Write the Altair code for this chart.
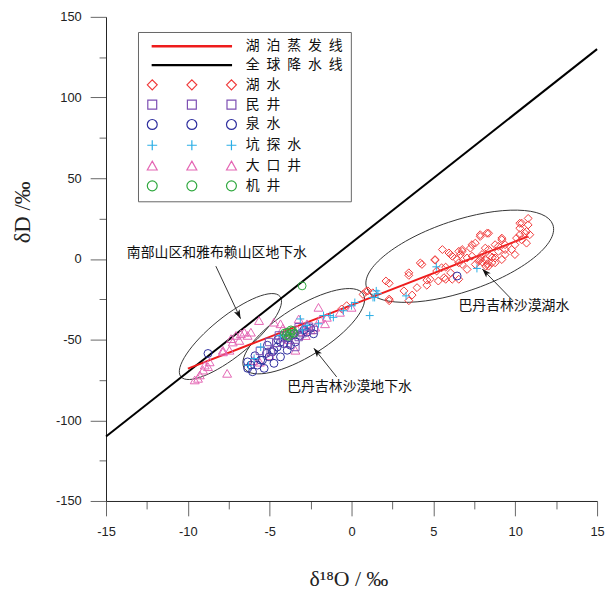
import math
import altair as alt
import pandas as pd

# ---------------- data ----------------
# 湖水 (lake water)
lake_x = [1.0, 1.3, 2.1, 2.3, 2.3, 2.3, 3.2, 3.5, 3.5, 3.5, 3.7, 4.0, 4.2, 4.3, 4.6, 4.6, 4.8, 5.1, 5.1, 5.2,
          5.3, 5.5, 5.55, 5.65, 5.75, 5.75, 5.95, 6.05, 6.05, 6.15, 6.15, 6.45, 6.55, 6.55, 6.55, 6.65, 6.76, 6.76, 6.76, 7.06,
          7.06, 7.26, 7.36, 7.36, 7.56, 7.56, 7.76, 7.86, 7.86, 7.86, 7.97, 8.0, 8.17, 8.17, 8.2, 8.27, 8.37, 8.37, 8.37, 8.47,
          8.57, 8.77, 8.77, 8.77, 8.97, 8.97, 9.18, 9.18, 9.18, 9.38, 9.38, 9.38, 9.78, 9.98, 9.98, 10.08, 10.28, 10.28, 10.28, 10.38,
          10.4, 10.59, 10.69, 10.69, 10.79, 10.79, 10.89, 7.9, 8.6, 8.3, -0.6, -0.3, 0.7, 0.9]
lake_y = [-19.8, -21.0, -13.7, -15.1, -24.9, -25.9, -19.8, -25.9, -8.6, -10.2, -22.4, -17.8, -2.5, -3.4, -13.1, -16.3, -12.6, -0.4, -0.8, -7.5,
          -13.7, -5.5, 5.8, -11.6, -12.6, -5.1, 3.7, 2.7, -8.6, -12.6, 1.7, -0.4, 4.7, -12.6, -2.4, 2.7, 5.8, 4.7, -3.4, 0.6,
          -6.5, 6.7, 1.7, 8.8, 9.8, -3.4, -1.4, 13.9, 15.0, -0.4, 2.7, -2.0, 6.7, -0.4, -4.5, 15.9, 15.9, 5.8, -4.5, 1.7,
          -2.4, -2.4, 0.6, 8.8, 4.7, 7.8, 12.9, 11.9, -0.4, 8.8, 2.7, 5.8, 5.8, 2.7, 8.8, 12.9, 15.0, 19.0, 22.1, 11.9,
          22.1, 15.9, 17.0, 9.8, 21.1, 25.1, 15.0, 0.8, 1.0, -3.0, -31.0, -29.0, -22.0, -20.0]

# 民井
well_x = [-5.6, -5.04, -4.94, -4.6, -4.44, -4.2, -3.93, -3.8, -3.43, -3.23, -3.23, -3.0, -2.6, -2.3]
well_y = [-57.0, -51.5, -57.6, -52.0, -47.4, -49.0, -52.5, -47.0, -54.6, -48.4, -42.3, -46.0, -42.0, -44.0]

# 泉水
spring_x = [-8.77, 6.45, -6.35, -6.35, -6.15, -6.05, -5.75, -5.55, -5.44, -5.34, -5.14, -5.04, -4.84, -4.74, -4.74, -4.54,
            -4.34, -4.34, -4.13, -3.93, -3.73, -3.53, -3.43, -3.13, -2.72, -2.32, -5.9, -5.2, -4.5, -3.9, -2.9, -2.5]
spring_y = [-58.6, -10.6, -67.8, -63.8, -65.8, -69.9, -65.8, -62.7, -62.7, -67.8, -53.5, -60.7, -57.6, -56.6, -64.7, -54.6,
            -51.5, -60.7, -52.5, -56.6, -53.5, -46.4, -51.5, -47.4, -45.4, -46.4, -60.0, -58.5, -50.0, -49.0, -44.0, -43.0]

# 坑探水
pit_x = [-6.3, -5.95, -5.55, -4.34, -3.13, -3.0, -2.72, -2.02, -1.71, -1.31, -1.11, -0.5, 0.0, 0.2, 1.11, 1.31, 1.41, 1.51,
         1.61, 3.33, 5.18, 7.66]
pit_y = [-66.0, -61.7, -54.6, -47.4, -37.2, -44.0, -41.3, -40.2, -35.1, -35.1, -36.2, -32.1, -29.0, -27.0, -35.1, -23.9,
         -23.9, -19.8, -21.5, -22.9, -4.9, -5.9]

# 大口井
big_x = [-9.58, -9.38, -9.27, -9.07, -8.97, -8.77, -8.67, -7.86, -7.86, -7.46, -7.6, -7.36, -7.26, -7.06, -6.86, -6.76,
         -6.55, -6.35, -6.15, -5.65, -4.74, -4.34, -3.33, -3.23, -2.72, -2.22, -1.92, -1.62, -3.43, -2.02, 0.0, -0.71,
         -3.0, -4.0, -3.6, -2.5, -5.0, -5.6, -6.0, -4.2, -3.8, -2.8, -1.51]
big_y = [-75.0, -74.0, -71.9, -68.9, -65.8, -66.8, -63.8, -57.6, -56.6, -56.6, -70.9, -49.4, -51.5, -47.4, -50.5, -46.4,
         -45.4, -47.4, -45.4, -38.2, -39.2, -40.2, -43.3, -37.2, -40.2, -42.3, -37.2, -40.2, -56.6, -30.0, -30.0, -33.1,
         -45.0, -45.0, -47.0, -44.0, -60.0, -64.0, -63.0, -43.0, -50.0, -47.5, -36.2]

# 机井
mech_x = [-3.02, -3.93, -3.73, -4.0, -3.6, -3.85, -3.5, -4.1, -3.7]
mech_y = [-16.7, -45.4, -46.4, -47.5, -44.5, -48.0, -46.0, -46.0, -44.0]

# lines
gmwl_x = [-15, 15]
gmwl_y = [-110, 130]
evap_x = [-10.0, 10.8]
evap_y = [-68.0, 14.0]

# axis ticks
x_ticks = [-15, -12.5, -10, -7.5, -5, -2.5, 0, 2.5, 5, 7.5, 10, 12.5, 15]
y_ticks = [-150, -125, -100, -75, -50, -25, 0, 25, 50, 75, 100, 125, 150]
x_title = "δ¹⁸O / ‰"
y_title = "δD /‰"

# annotations
note_labels = ["南部山区和雅布赖山区地下水", "巴丹吉林沙漠地下水", "巴丹吉林沙漠湖水"]
note_x = [-13.73, -3.93, 6.53]
note_y = [3.5, -79.3, -29.0]

arrow_x0 = [-8.29, -0.91, 9.86]
arrow_y0 = [-4.5, -73.1, -25.9]
arrow_x1 = [-6.78, -2.30, 7.99]
arrow_y1 = [-37.0, -55.4, -6.3]

ell_cx = [-7.40, -2.92, 6.61]
ell_cy = [-48.1, -44.8, 1.66]

type_names = ["湖水", "民井", "泉水", "坑探水", "大口井", "机井"]
line_names = ["湖泊蒸发线", "全球降水线"]

# ---------------- styles / layout ----------------
W, H = 496, 489
colors = {"湖泊蒸发线": "#ee1c1c", "全球降水线": "#000000", "湖水": "#f03a3a", "民井": "#7d4fb3",
          "泉水": "#2e2e9e", "坑探水": "#2aaee6", "大口井": "#e466b4", "机井": "#2fa83e"}
PLUS = "M-1,0L1,0M0,-1L0,1"
shapes = {"湖水": "diamond", "民井": "square", "泉水": "circle", "坑探水": PLUS,
          "大口井": "triangle-up", "机井": "circle"}
sizes = {"湖水": 64, "民井": 56, "泉水": 64, "坑探水": 64, "大口井": 81, "机井": 64}

series = {"湖水": (lake_x, lake_y), "大口井": (big_x, big_y), "泉水": (spring_x, spring_y),
          "民井": (well_x, well_y), "坑探水": (pit_x, pit_y), "机井": (mech_x, mech_y)}
rows = []
for name, (xs, ys) in series.items():
    for xv, yv in zip(xs, ys):
        rows.append({"x": xv, "y": yv, "类型": name, "color": colors[name],
                     "shape": shapes[name], "size": sizes[name]})
pts_df = pd.DataFrame(rows)

# ellipses (pixel semi-axes and tilt, drawn as custom symbol paths)
ell_a = [64.4, 70.8, 99.3]
ell_b = [20.0, 25.0, 36.0]
ell_tilt = [39.0, 32.0, 18.6]
ell_df = pd.DataFrame({
    "x": ell_cx, "y": ell_cy,
    "path": [f"M-1,0A1,{b / a:.3f} 0 1,1 1,0A1,{b / a:.3f} 0 1,1 -1,0Z" for a, b in zip(ell_a, ell_b)],
    "size": [(2 * a) ** 2 for a in ell_a],
    "angle": [360 - t for t in ell_tilt],
})

sx, sy = W / 30.0, H / 300.0
arr_df = pd.DataFrame({"x0": arrow_x0, "y0": arrow_y0, "x1": arrow_x1, "y1": arrow_y1})
arr_df["angle"] = [
    math.degrees(math.atan2(-(b1 - b0) * sy, (a1 - a0) * sx)) % 360
    for a0, b0, a1, b1 in zip(arrow_x0, arrow_y0, arrow_x1, arrow_y1)
]
ARROW = "M0,0L-2,-0.7L-1.5,0L-2,0.7Z"

txt_df = pd.DataFrame({"x": note_x, "y": note_y, "label": note_labels})
gm_df = pd.DataFrame({"x": gmwl_x, "y": gmwl_y})
ev_df = pd.DataFrame({"x": evap_x, "y": evap_y})

# legend (triple symbols as custom paths)
def triple(fn):
    return "".join(fn(c) for c in (0, 8, 16))

leg_paths = [
    "M0,-0.12L16,-0.12L16,0.12L0,0.12Z",
    "M0,-0.12L16,-0.12L16,0.12L0,0.12Z",
    triple(lambda c: f"M{c-1},0L{c},-1L{c+1},0L{c},1Z"),
    triple(lambda c: f"M{c-0.9},-0.9L{c+0.9},-0.9L{c+0.9},0.9L{c-0.9},0.9Z"),
    triple(lambda c: f"M{c-1},0A1,1 0 1,1 {c+1},0A1,1 0 1,1 {c-1},0Z"),
    triple(lambda c: f"M{c-1},0L{c+1},0M{c},-1L{c},1"),
    triple(lambda c: f"M{c},-1L{c+1},0.8L{c-1},0.8Z"),
    triple(lambda c: f"M{c-1},0A1,1 0 1,1 {c+1},0A1,1 0 1,1 {c-1},0Z"),
]
all_names = line_names + type_names
leg_disp = ["\u2002".join(list(n)) for n in all_names]
leg_colors = [colors[n] for n in all_names]
leg_df = pd.DataFrame({"类型": leg_disp})

# ---------------- scales / axes ----------------
xsc = alt.Scale(domain=[-15, 15], nice=False, zero=False)
ysc = alt.Scale(domain=[-150, 150], nice=False, zero=False)

x_axis = alt.Axis(
    values=x_ticks, grid=False, labelFlush=False, title=None,
    labelExpr="datum.value % 5 === 0 ? '' + datum.value : ''",
    tickSize={"condition": {"test": "datum.value % 5 === 0", "value": 15}, "value": 8},
    labelPadding=10, labelFont="Liberation Sans", labelFontSize=13, labelColor="#222",
    tickColor="#666", domainColor="#222",
)
y_axis = alt.Axis(
    values=y_ticks, grid=False, labelFlush=False, title=None,
    labelExpr="datum.value % 50 === 0 ? '' + datum.value : ''",
    tickSize={"condition": {"test": "datum.value % 50 === 0", "value": 16}, "value": 7},
    labelPadding=9, labelFont="Liberation Sans", labelFontSize=13, labelColor="#222",
    tickColor="#666", domainColor="#222",
)


def X(f):
    return alt.X(f"{f}:Q", scale=xsc, axis=x_axis)


def Y(f):
    return alt.Y(f"{f}:Q", scale=ysc, axis=y_axis)


ell = alt.Chart(ell_df).mark_point(filled=False, opacity=1, strokeWidth=0.9, color="#333").encode(
    x=X("x"), y=Y("y"),
    shape=alt.Shape("path:N", scale=None),
    size=alt.Size("size:Q", scale=None),
    angle=alt.Angle("angle:Q", scale=None),
)
gm = alt.Chart(gm_df).mark_line(color="#000000", strokeWidth=2).encode(x=X("x"), y=Y("y"))
ev = alt.Chart(ev_df).mark_line(color=colors["湖泊蒸发线"], strokeWidth=2).encode(x=X("x"), y=Y("y"))
pts = alt.Chart(pts_df).mark_point(filled=False, opacity=1, strokeWidth=1).encode(
    x=X("x"), y=Y("y"),
    color=alt.Color("color:N", scale=None),
    shape=alt.Shape("shape:N", scale=None),
    size=alt.Size("size:Q", scale=None),
)
arr = alt.Chart(arr_df).mark_rule(color="#333", strokeWidth=1).encode(
    x=X("x0"), y=Y("y0"), x2="x1:Q", y2="y1:Q")
heads = alt.Chart(arr_df).mark_point(filled=True, opacity=1, color="#111", size=80, shape=ARROW).encode(
    x=X("x1"), y=Y("y1"), angle=alt.Angle("angle:Q", scale=None))
txt = alt.Chart(txt_df).mark_text(align="left", baseline="middle", font="Noto Sans CJK SC",
                                  fontSize=14, color="#111").encode(x=X("x"), y=Y("y"), text="label:N")

# axis titles as text marks (positioned relative to the plot area)
xt = alt.Chart(pd.DataFrame({"t": [x_title]})).mark_text(
    font="Liberation Serif", fontSize=22, color="#222", align="center", baseline="middle"
).encode(text="t:N", x=alt.value(245.3), y=alt.value(567.5))
yt = alt.Chart(pd.DataFrame({"t": [y_title]})).mark_text(
    font="Liberation Serif", fontSize=23, color="#222", align="center", baseline="middle", angle=270
).encode(text="t:N", x=alt.value(-83.5), y=alt.value(197.5))

leg_cfg = dict(title=None, orient="none", legendX=32.3, legendY=15.3, padding=7.4, strokeColor="#666",
               labelFont="Noto Sans CJK SC", labelFontSize=14, labelColor="#111", symbolSize=100,
               symbolStrokeWidth=1.2, labelOffset=87.4, rowPadding=5, labelLimit=300)
leg = alt.Chart(leg_df).transform_filter("false").mark_point(filled=False, opacity=1).encode(
    color=alt.Color("类型:N", scale=alt.Scale(domain=leg_disp, range=leg_colors), legend=alt.Legend(**leg_cfg)),
    shape=alt.Shape("类型:N", scale=alt.Scale(domain=leg_disp, range=leg_paths), legend=alt.Legend(**leg_cfg)),
)

chart = alt.layer(ell, gm, ev, pts, arr, heads, txt, xt, yt, leg).properties(
    width=W, height=H, padding={"left": 4, "top": 0, "right": 0, "bottom": 0}
).configure_view(stroke=None).configure_axis(grid=False)

chart.save("out.html", embed_options={"renderer": "svg", "actions": False})
